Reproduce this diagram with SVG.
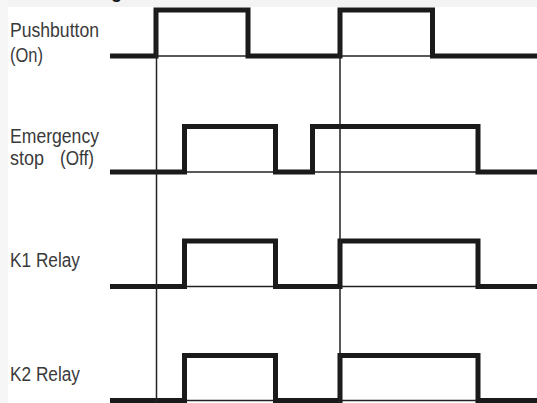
<svg xmlns="http://www.w3.org/2000/svg" width="537" height="403" viewBox="0 0 537 403">
<style>
.lbl{font-family:"Liberation Sans",Arial,sans-serif;font-size:20px;fill:#3a3a3a}
.wave{fill:none;stroke:#1a1a1a;stroke-width:5;stroke-linejoin:miter;stroke-linecap:butt}
.thin{fill:none;stroke:#222;stroke-width:1.5}
</style>
<rect x="0" y="0" width="537" height="403" fill="#ffffff"/>
<rect x="0" y="0" width="537" height="7" fill="#f3f3f3"/>
<rect x="0" y="0" width="8" height="403" fill="#f6f6f6"/>
<text x="111" y="-2" style="font-family:'Liberation Sans',Arial,sans-serif;font-size:18px;font-weight:bold;fill:#111">g</text>
<g id="pushbutton">
<text class="lbl" x="10" y="37" textLength="89" lengthAdjust="spacingAndGlyphs">Pushbutton</text>
<text class="lbl" x="10" y="62" textLength="33" lengthAdjust="spacingAndGlyphs">(On)</text>
<line class="thin" x1="110" y1="56" x2="537" y2="56"/>
<polyline class="wave" points="110,56 156,56 156,10 248,10 248,56 340,56 340,10 432.5,10 432.5,56 537,56"/>
</g>
<g id="emergency-stop">
<text class="lbl" x="10" y="143" textLength="89" lengthAdjust="spacingAndGlyphs">Emergency</text>
<text class="lbl" x="10" y="165" textLength="34" lengthAdjust="spacingAndGlyphs">stop</text>
<text class="lbl" x="60" y="165" textLength="34" lengthAdjust="spacingAndGlyphs">(Off)</text>
<line class="thin" x1="110" y1="172" x2="537" y2="172"/>
<polyline class="wave" points="110,172 184.5,172 184.5,126.5 275.5,126.5 275.5,172 312.5,172 312.5,126.5 478,126.5 478,172 537,172"/>
</g>
<g id="k1-relay">
<text class="lbl" x="10" y="267" textLength="70" lengthAdjust="spacingAndGlyphs">K1 Relay</text>
<line class="thin" x1="110" y1="286.5" x2="537" y2="286.5"/>
<polyline class="wave" points="110,286.5 184.5,286.5 184.5,241 275.5,241 275.5,286.5 340,286.5 340,241 478,241 478,286.5 537,286.5"/>
</g>
<g id="k2-relay">
<text class="lbl" x="10" y="381" textLength="70" lengthAdjust="spacingAndGlyphs">K2 Relay</text>
<line class="thin" x1="110" y1="400.5" x2="537" y2="400.5"/>
<polyline class="wave" points="110,400.5 184.5,400.5 184.5,355.5 275.5,355.5 275.5,400.5 340,400.5 340,355.5 478,355.5 478,400.5 537,400.5"/>
</g>
<g id="connectors">
<line class="thin" x1="156.5" y1="10" x2="156.5" y2="403"/>
<line class="thin" x1="340" y1="10" x2="340" y2="403"/>
</g>
</svg>
